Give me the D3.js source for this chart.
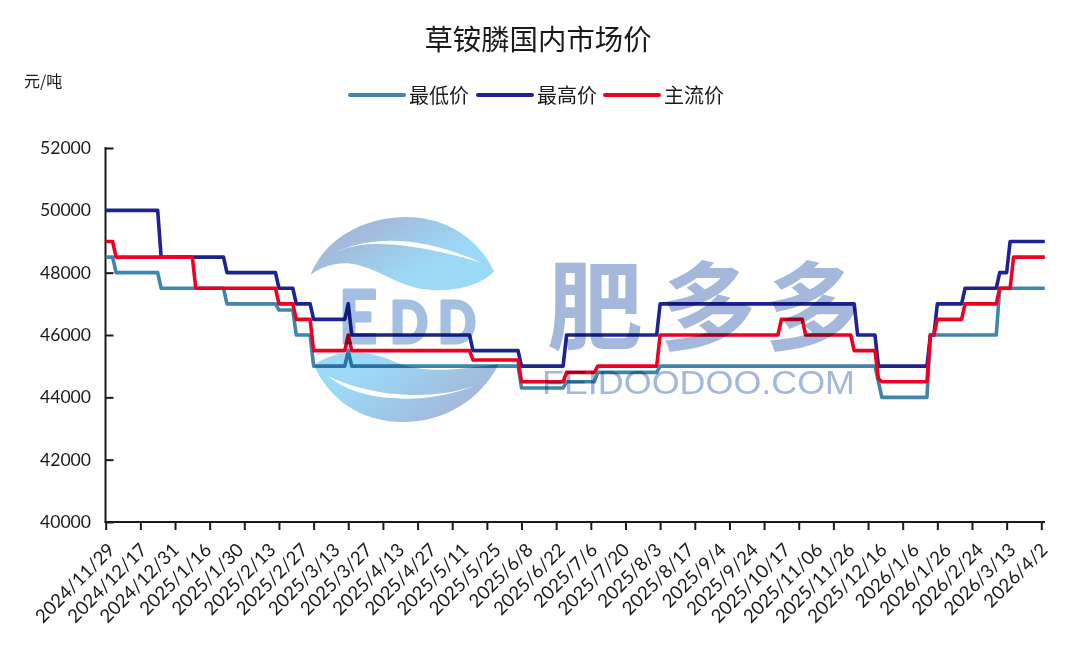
<!DOCTYPE html>
<html><head><meta charset="utf-8">
<style>html,body{margin:0;padding:0;background:#fff}svg{display:block}</style>
<script src="https://cdnjs.cloudflare.com/ajax/libs/d3/7.8.5/d3.min.js"></script>
</head><body><svg id="c" width="1080" height="652"></svg>
<script>
const title = "草铵膦国内市场价";
const unit = "元/吨";
const seriesNames = ["最低价", "最高价", "主流价"];
const seriesColors = ["#3f86ad", "#1d2391", "#ee0022"];
const tickLabels = ["2024/11/29","2024/12/17","2024/12/31","2025/1/16","2025/1/30","2025/2/13","2025/2/27","2025/3/13","2025/3/27","2025/4/13","2025/4/27","2025/5/11","2025/5/25","2025/6/8","2025/6/22","2025/7/6","2025/7/20","2025/8/3","2025/8/17","2025/9/4","2025/9/24","2025/10/17","2025/11/06","2025/11/26","2025/12/16","2026/1/6","2026/1/26","2026/2/24","2026/3/13","2026/4/2"];
const yTicks = [40000,42000,44000,46000,48000,50000,52000];
// Sampled on a 272-point working-day axis: each step begins at the given sample.
const lowStart  = [0,3,16,35,50,55,60,70,71,120,133,142,160,223,224,238,258];
const lowValue  = [48500,48000,47500,47000,46800,46000,45000,45500,45000,44300,44500,44800,45000,44500,44000,46000,47500];
const highStart = [0,16,35,50,55,60,70,71,106,120,133,160,217,223,238,240,248,258,261];
const highValue = [50000,48500,48000,47500,47000,46500,47000,46000,45500,45000,46000,47000,46000,45000,46000,47000,47500,48000,49000];
const mainStart = [0,3,26,50,55,60,70,71,106,120,133,142,160,195,202,216,223,224,238,240,248,258,262];
const mainValue = [49000,48500,47500,47000,46500,45500,46000,45500,45200,44500,44800,45000,46000,46500,46000,45500,44600,44500,46000,46500,47000,47500,48500];
const sampleCount = 272;
const tickEvery = 10;

function expand(starts, values){
  const out = [];
  let k = 0;
  for (let i = 0; i < sampleCount; i++){
    while (k + 1 < starts.length && starts[k+1] <= i) k++;
    out.push(values[k]);
  }
  return out;
}
const series = [expand(lowStart,lowValue), expand(highStart,highValue), expand(mainStart,mainValue)];

const svg = d3.select("#c");
const x = d3.scaleLinear().domain([0,270]).range([105.7,1041.3]);
const y = d3.scaleLinear().domain([40000,52000]).range([522,148]);
const cjk = "'Noto Sans CJK SC','Noto Sans',sans-serif";
const latin = "Lato,'Noto Sans',sans-serif";

// title, unit, legend
svg.append("text").attr("x",538).attr("y",50).attr("text-anchor","middle")
  .attr("font-family",cjk).attr("font-size",28.4).attr("fill","#1a1a1a").text(title);
svg.append("text").attr("x",24).attr("y",87).attr("font-family",cjk).attr("font-size",16).attr("fill","#1a1a1a").text(unit);
const legendX = d3.scaleOrdinal().domain(seriesNames).range([349,477,604]);
const lg = svg.append("g").selectAll("g").data(seriesNames).join("g").attr("transform",d=>`translate(${legendX(d)},95)`);
lg.append("line").attr("x1",1).attr("x2",55).attr("stroke",(d,i)=>seriesColors[i]).attr("stroke-width",4).attr("stroke-linecap","round");
lg.append("text").attr("x",60).attr("y",7.5).attr("font-family",cjk).attr("font-size",20).attr("fill","#1a1a1a").text(d=>d);

// axes
const gy = svg.append("g").attr("transform","translate(105.5,0)")
  .call(d3.axisRight(y).tickValues(yTicks).tickSize(8).tickFormat(""));
gy.selectAll("path,line").attr("stroke","#1a1a1a").attr("stroke-width",2);
gy.select("path").attr("d","M0,147V523");
svg.append("g").selectAll("text").data(yTicks).join("text")
  .attr("x",91).attr("y",d=>y(d)+6).attr("text-anchor","end")
  .attr("font-family",latin).attr("font-size",17.6).attr("fill","#1a1a1a").text(d=>d);

const tickIdx = d3.range(0,271,tickEvery);
const gx = svg.append("g").attr("transform","translate(0,522)")
  .call(d3.axisBottom(x).tickValues(tickIdx).tickSize(8).tickFormat(""));
gx.selectAll("path,line").attr("stroke","#1a1a1a").attr("stroke-width",2);
gx.select("path").attr("d","M104.7,0H1045");

const labelX = d3.scalePoint().domain(tickLabels).range([116,1049]);
svg.append("g").selectAll("text").data(tickLabels).join("text")
  .attr("transform",d=>`translate(${labelX(d)},551) rotate(-45)`)
  .attr("text-anchor","end").attr("font-family",latin).attr("font-size",18.6).attr("fill","#1a1a1a").text(d=>d);

// lines
const line = d3.line().x((d,i)=>x(i)).y(d=>y(d));
svg.append("g").selectAll("path").data(series).join("path")
  .attr("d",line).attr("fill","none").attr("stroke",(d,i)=>seriesColors[i])
  .attr("stroke-width",3.6).attr("stroke-linejoin","round");

// watermark
const defs = svg.append("defs");
const g1 = defs.append("linearGradient").attr("id","wmA").attr("x1","0").attr("y1","0").attr("x2","1").attr("y2","0.7");
g1.append("stop").attr("offset","0.25").attr("stop-color","#a3b8da");
g1.append("stop").attr("offset","0.75").attr("stop-color","#9bd9f6");
const g2 = defs.append("linearGradient").attr("id","wmB").attr("x1","0").attr("y1","0.3").attr("x2","1").attr("y2","0.8");
g2.append("stop").attr("offset","0.2").attr("stop-color","#9bd9f6");
g2.append("stop").attr("offset","0.85").attr("stop-color","#a3b8da");
const g3 = defs.append("linearGradient").attr("id","wmC").attr("x1","0").attr("y1","0").attr("x2","1").attr("y2","0");
g3.append("stop").attr("offset","0").attr("stop-color","#9ccbed");
g3.append("stop").attr("offset","1").attr("stop-color","#a3b8da");

const wm = svg.append("g").style("mix-blend-mode","multiply");
wm.append("path").attr("fill","url(#wmA)")
  .attr("d","M310.5,275 C325,238 365,217 406,217 C447,217 480,240 494,271.5 C478,288 450,291 432,290 C400,288 385,272 358,265 C340,260 322,266 310.5,275Z");
wm.append("path").attr("fill","#fff")
  .attr("d","M335,252.5 C365,238 415,232 482,263 C440,250 400,243 372,244 C355,245 345,248 335,252.5Z");
wm.append("path").attr("fill","url(#wmB)")
  .attr("d","M314,365 C335,350 365,348 395,362 C420,372 445,372 499,364 C480,400 445,422 403,422 C360,422 328,398 314,365Z");
wm.append("path").attr("fill","#fff")
  .attr("d","M328,376 C360,392 420,404 474,386 C440,400 395,402 365,394 C350,390 337,384 328,376Z");
const wmText = wm.append("g").attr("fill","#a3c0e2").attr("stroke","#a3c0e2").attr("stroke-width",3).attr("stroke-linejoin","round").attr("font-family",latin).attr("font-weight",900);
wmText.append("text").attr("x",339).attr("y",343).attr("font-size",72).attr("textLength",38).attr("lengthAdjust","spacingAndGlyphs").text("E");
wmText.append("text").attr("x",390).attr("y",343).attr("font-size",58).attr("textLength",38).attr("lengthAdjust","spacingAndGlyphs").text("D");
wmText.append("text").attr("x",438).attr("y",343).attr("font-size",58).attr("textLength",38).attr("lengthAdjust","spacingAndGlyphs").text("D");
const wmChars = ["肥","多","多"];
const wmX = d3.scaleOrdinal().domain([0,1,2]).range([547,660,765]);
wm.append("g").selectAll("text").data(wmChars).join("text")
  .attr("x",(d,i)=>wmX(i)).attr("y",342).attr("font-family",cjk).attr("font-weight",700)
  .attr("font-size",96).attr("fill","#a3b8da").text(d=>d);
wm.append("text").attr("x",542).attr("y",394).attr("font-family","'Liberation Sans',sans-serif")
  .attr("font-size",33).attr("textLength",313).attr("lengthAdjust","spacingAndGlyphs").attr("fill","#a3b8da").text("FEIDOODOO.COM");
</script></body></html>
